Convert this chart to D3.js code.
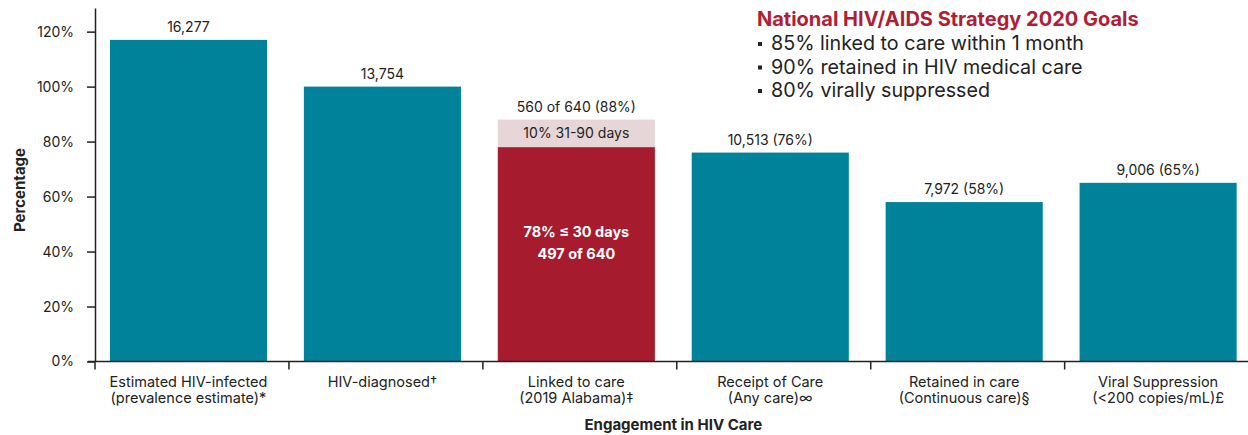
<!DOCTYPE html>
<html>
<head>
<meta charset="utf-8">
<script src="https://cdn.jsdelivr.net/npm/d3@7"></script>
<style>
  body { margin: 0; background: #fff; }
  svg, svg text { font-family: Inter, Roboto, "Noto Sans", sans-serif; }
</style>
</head>
<body>
<div id="chart"></div>
<script>
// chart data
var categories = [
  ["Estimated HIV-infected", "(prevalence estimate)*"],
  ["HIV-diagnosed\u2020"],
  ["Linked to care", "(2019 Alabama)\u2021"],
  ["Receipt of Care", "(Any care)\u221e"],
  ["Retained in care", "(Continuous care)\u00a7"],
  ["Viral Suppression", "(<200 copies/mL)\u00a3"]
];
var percents = [117, 100, 78, 76, 58, 65];
var extraPercents = [0, 0, 10, 0, 0, 0];
var barLabels = ["16,277", "13,754", "560 of 640 (88%)", "10,513 (76%)", "7,972 (58%)", "9,006 (65%)"];
var linkedLabels = ["10% 31-90 days", "78% \u2264 30 days", "497 of 640"];
var yTicks = [0, 20, 40, 60, 80, 100, 120];
var goalTitle = "National HIV/AIDS Strategy 2020 Goals";
var goals = ["85% linked to care within 1 month", "90% retained in HIV medical care", "80% virally suppressed"];

var W = 1248, H = 435;
var teal = "#00829b", red = "#a61b2e", pink = "#e6d6d8";

var svg = d3.select("#chart")
  .append("svg")
    .attr("width", W)
    .attr("height", H);

var x = d3.scaleBand()
  .domain(d3.range(categories.length))
  .range([95, 1251.6])
  .paddingInner(0.19)
  .paddingOuter(0.077);

var y = d3.scaleLinear()
  .domain([0, 128.6])
  .range([361.5, 8]);

// bars
svg.selectAll("rect.bar")
  .data(percents)
  .enter()
  .append("rect")
    .attr("class", "bar")
    .attr("x", function(d, i) { return x(i); })
    .attr("y", function(d) { return y(d); })
    .attr("width", x.bandwidth())
    .attr("height", function(d) { return y(0) - y(d); })
    .attr("fill", function(d, i) { return i == 2 ? red : teal; });

// 31-90 day part stacked on the linked bar
svg.selectAll("rect.extra")
  .data(extraPercents)
  .enter()
  .filter(function(d) { return d > 0; })
  .append("rect")
    .attr("class", "extra")
    .attr("x", function(d, i) { return x(2); })
    .attr("y", function(d) { return y(percents[2] + d); })
    .attr("width", x.bandwidth())
    .attr("height", function(d) { return y(0) - y(d); })
    .attr("fill", pink);

// labels above bars
svg.selectAll("text.barlabel")
  .data(barLabels)
  .enter()
  .append("text")
    .attr("class", "barlabel")
    .attr("x", function(d, i) { return x(i) + x.bandwidth() / 2; })
    .attr("y", function(d, i) { return y(percents[i] + extraPercents[i]) - 8; })
    .attr("text-anchor", "middle")
    .style("font-size", "14px")
    .attr("fill", "#222")
    .text(function(d) { return d; });

// labels inside the linked bar
var cx = x(2) + x.bandwidth() / 2;
svg.append("text")
  .attr("x", cx)
  .attr("y", y(percents[2] + extraPercents[2] / 2) + 5)
  .attr("text-anchor", "middle")
  .style("font-size", "14px")
  .attr("fill", "#222")
  .text(linkedLabels[0]);
svg.append("text")
  .attr("x", cx)
  .attr("y", 237)
  .attr("text-anchor", "middle")
  .style("font-size", "14.5px")
  .style("font-weight", "bold")
  .attr("fill", "#fff")
  .text(linkedLabels[1]);
svg.append("text")
  .attr("x", cx)
  .attr("y", 259)
  .attr("text-anchor", "middle")
  .style("font-size", "14.5px")
  .style("font-weight", "bold")
  .attr("fill", "#fff")
  .text(linkedLabels[2]);

// y axis
var yAxis = svg.append("g")
  .attr("transform", "translate(95,0)")
  .call(d3.axisLeft(y).tickValues(yTicks).tickSize(8).tickSizeOuter(0).tickPadding(13)
    .tickFormat(function(d) { return d + "%"; }))
  .attr("font-family", null);
yAxis.selectAll("text").style("font-size", "14px").attr("fill", "#222");
yAxis.selectAll("line, path").attr("stroke", "#222").attr("stroke-width", 1.5);

// x axis: line plus ticks at the band edges
var xAxis = svg.append("g");
xAxis.append("line")
  .attr("x1", 88).attr("x2", W)
  .attr("y1", y(0)).attr("y2", y(0))
  .attr("stroke", "#222").attr("stroke-width", 1.5);
xAxis.selectAll("line.tick")
  .data(d3.range(categories.length + 1))
  .enter()
  .append("line")
    .attr("class", "tick")
    .attr("x1", function(i) { return 95 + i * x.step(); })
    .attr("x2", function(i) { return 95 + i * x.step(); })
    .attr("y1", y(0)).attr("y2", y(0) + 8)
    .attr("stroke", "#222").attr("stroke-width", 1.5);

var catText = xAxis.selectAll("text.cat")
  .data(categories)
  .enter()
  .append("text")
    .attr("class", "cat")
    .attr("text-anchor", "middle")
    .style("font-size", "14.5px")
    .attr("fill", "#222");
catText.selectAll("tspan")
  .data(function(d, i) { return d.map(function(s) { return {s: s, i: i}; }); })
  .enter()
  .append("tspan")
    .attr("x", function(d) { return x(d.i) + x.bandwidth() / 2; })
    .attr("y", function(d, j) { return 387 + j * 16; })
    .text(function(d) { return d.s; });

// axis titles
svg.append("text")
  .attr("x", x(0) + (x(5) + x.bandwidth() - x(0)) / 2)
  .attr("y", 430)
  .attr("text-anchor", "middle")
  .style("font-size", "15px")
  .style("font-weight", "bold")
  .attr("fill", "#222")
  .text("Engagement in HIV Care");

svg.append("text")
  .attr("transform", "translate(25,190) rotate(-90)")
  .attr("text-anchor", "middle")
  .style("font-size", "15px")
  .style("font-weight", "bold")
  .attr("fill", "#222")
  .text("Percentage");

// goals box
svg.append("text")
  .attr("x", 757)
  .attr("y", 26)
  .style("font-size", "20px")
  .style("font-weight", "bold")
  .attr("fill", "#b01e36")
  .text(goalTitle);

var g = svg.selectAll("g.goal")
  .data(goals)
  .enter()
  .append("g")
    .attr("class", "goal")
    .attr("transform", function(d, i) { return "translate(757," + (50 + i * 23.5) + ")"; });
g.append("rect")
  .attr("x", 1).attr("y", -8)
  .attr("width", 4).attr("height", 4)
  .attr("fill", "#222");
g.append("text")
  .attr("x", 14)
  .style("font-size", "19.7px")
  .attr("fill", "#222")
  .text(function(d) { return d; });
</script>
</body>
</html>
